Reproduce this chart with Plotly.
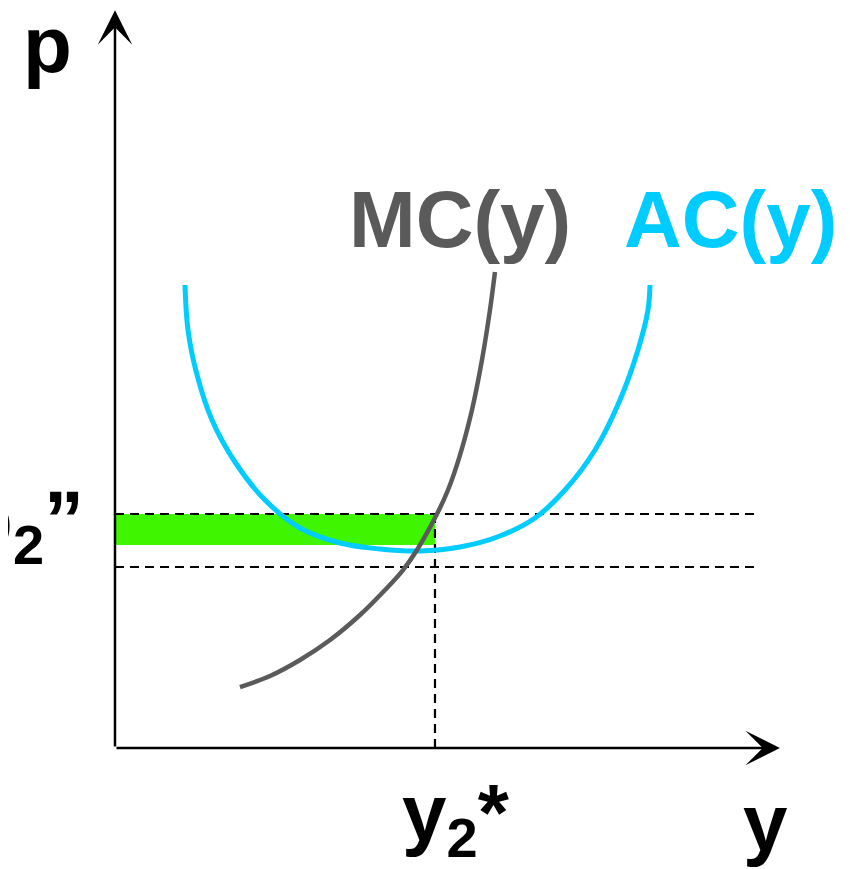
import plotly.graph_objects as go

# ---- data (quantity y on x-axis, price p on y-axis) ----
ac_q = [10.77, 11.23, 12.62, 14.92, 18.46, 23.08, 28.46, 34.62, 40.77, 46.92, 53.08, 59.23, 64.62, 69.23, 73.85, 77.69, 80.46, 82.0, 82.31]
ac_p = [62.57, 56.49, 50.41, 44.32, 38.65, 33.51, 29.73, 27.7, 26.89, 26.62, 27.16, 28.65, 31.08, 34.86, 40.27, 47.03, 53.78, 59.19, 62.57]

mc_q = [19.23, 23.85, 28.46, 33.08, 37.69, 41.54, 44.31, 46.46, 49.54, 51.23, 53.08, 54.92, 56.46, 57.69, 58.46]
mc_p = [8.24, 9.73, 11.89, 14.59, 17.97, 21.35, 24.05, 26.76, 31.62, 34.86, 39.59, 45.68, 52.43, 59.19, 64.32]

y2_star = 49.23      # optimal quantity
p2_dd = 31.62        # price p2''
p_low = 24.46        # lower dashed price level
bar_bottom = 27.43   # bottom of the green bar
dash_end = 98.9
x_axis_end = 102.3
y_axis_end = 99.7

BLACK = "#000000"
GRAY = "#5a5a5a"
CYAN = "#00CCFF"
GREEN = "#40F500"
FONT = "Liberation Sans, Arial, sans-serif"

W, H, OFF = 842, 861, 8   # page body margin offsets the figure by 8px

fig = go.Figure()

# green bar
fig.add_trace(go.Scatter(
    x=[0, y2_star, y2_star, 0, 0], y=[bar_bottom, bar_bottom, p2_dd, p2_dd, bar_bottom],
    fill="toself", fillcolor=GREEN, line=dict(width=0), mode="lines", hoverinfo="skip"))

# dashed guides
dash = dict(color=BLACK, width=2.2, dash="9px,6px")
fig.add_trace(go.Scatter(x=[0, dash_end], y=[p2_dd, p2_dd], mode="lines", line=dash))
fig.add_trace(go.Scatter(x=[0, dash_end], y=[p_low, p_low], mode="lines", line=dash))
fig.add_trace(go.Scatter(x=[y2_star, y2_star], y=[0, p2_dd], mode="lines", line=dash))

# curves
fig.add_trace(go.Scatter(x=ac_q, y=ac_p, mode="lines", line=dict(color=CYAN, width=5, shape="spline")))
fig.add_trace(go.Scatter(x=mc_q, y=mc_p, mode="lines", line=dict(color=GRAY, width=4.5, shape="spline")))

# axes with arrows
for (hx, hy) in [(x_axis_end, 0), (0, y_axis_end)]:
    fig.add_annotation(x=hx, y=hy, ax=0, ay=0, xref="x", yref="y", axref="x", ayref="y",
                       showarrow=True, arrowhead=3, arrowsize=2.3, arrowwidth=2.5,
                       arrowcolor=BLACK, text="")

def label(text, px, py, color=BLACK, size=80, xanchor="center"):
    fig.add_annotation(x=(px - OFF) / W, y=1 - (py - OFF) / H, xref="paper", yref="paper",
                       text=text, showarrow=False, xanchor=xanchor, yanchor="middle",
                       font=dict(family=FONT, size=size, color=color, weight="bold"))

label("p", 47, 45)
label("MC(y)", 460, 220, GRAY)
label("AC(y)", 730, 220, CYAN)
label("y", 765, 822)
label("y<sub>2</sub>*", 456, 818)
label("p<sub>2</sub>”", 86, 525, xanchor="right")

fig.update_layout(
    width=W, height=H, margin=dict(l=0, r=0, t=0, b=0),
    paper_bgcolor="white", plot_bgcolor="white", showlegend=False,
    xaxis=dict(range=[-16.46, 113.08], visible=False, fixedrange=True),
    yaxis=dict(range=[-16.35, 100.0], visible=False, fixedrange=True),
)

fig.write_html("out.html")
